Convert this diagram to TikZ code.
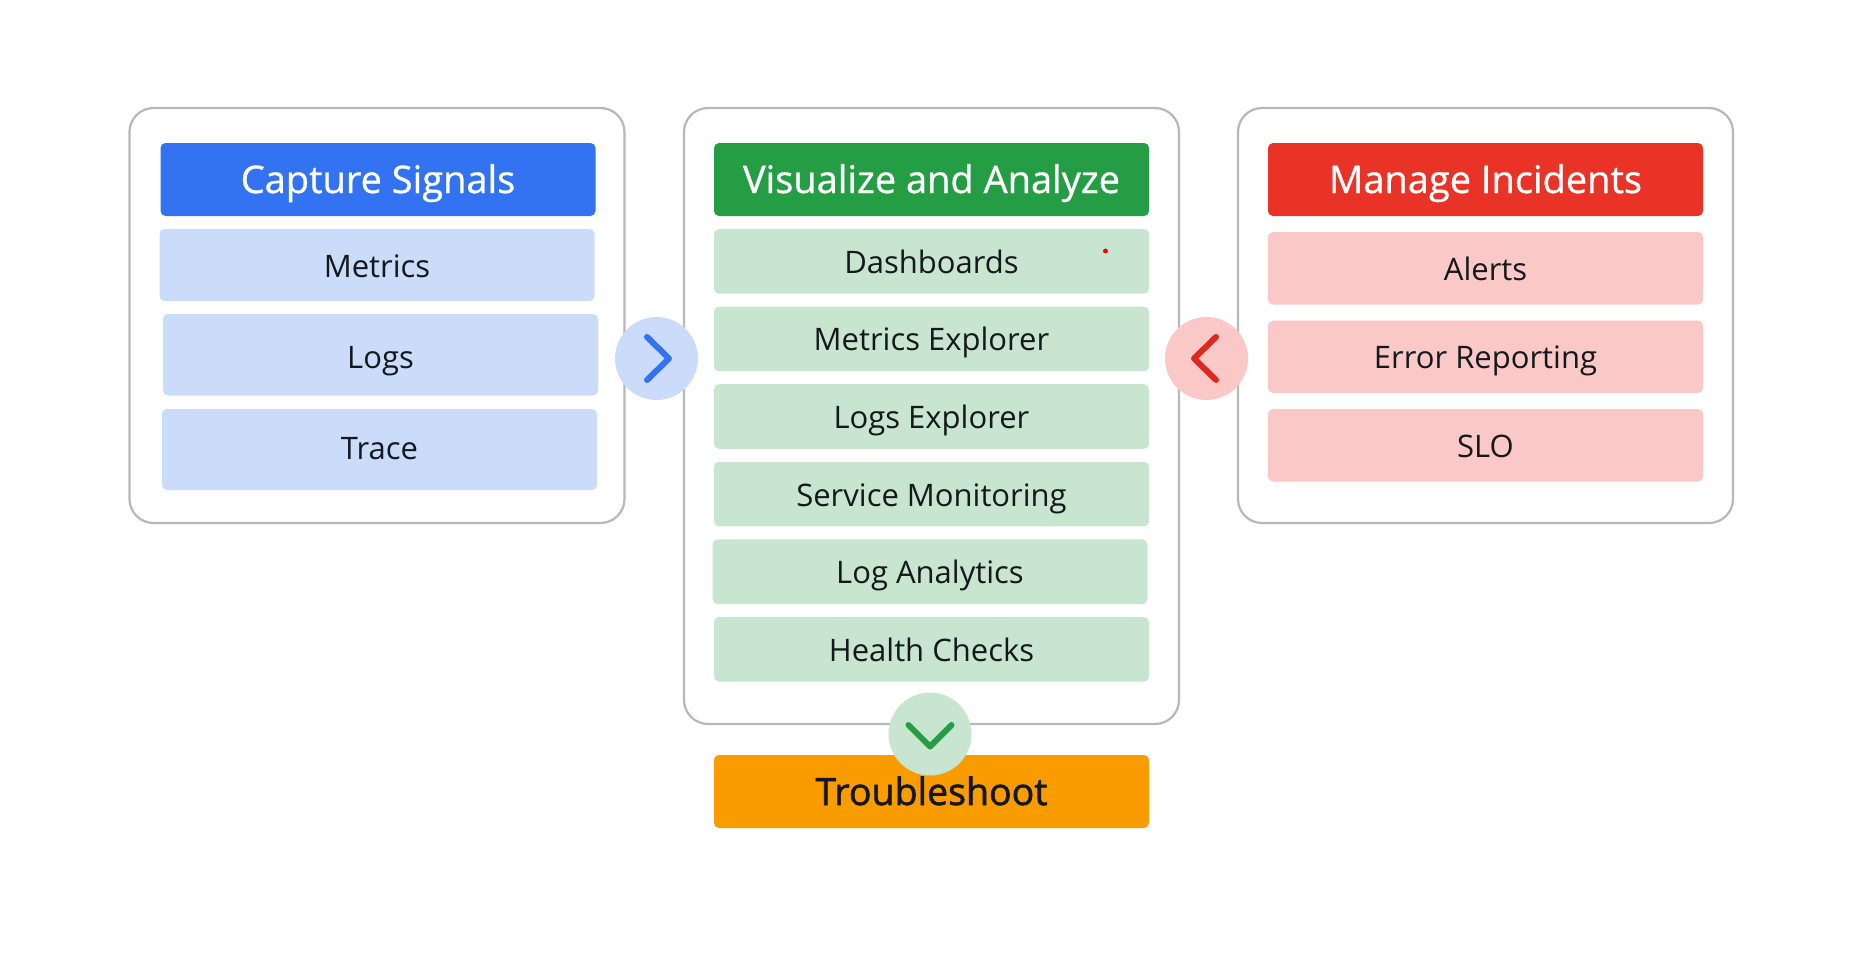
\documentclass[tikz,border=0pt]{standalone}
\usepackage{fontspec}
\setmainfont{Open Sans}
\newfontfamily\headfont[FakeBold=0.8]{Open Sans}
\newfontfamily\fixfont[FakeBold=1.6]{Open Sans}
\usetikzlibrary{positioning}
\definecolor{sigBlue}{HTML}{3373F2}
\definecolor{sigLight}{HTML}{CBDCFB}
\definecolor{anaGreen}{HTML}{259D45}
\definecolor{anaLight}{HTML}{C8E6CF}
\definecolor{incRed}{HTML}{E93326}
\definecolor{incLight}{HTML}{F9C8C7}
\definecolor{incMark}{HTML}{DC2820}
\definecolor{fixOrange}{HTML}{F99C00}
\definecolor{panelLine}{HTML}{B8B8BC}
\definecolor{inkDark}{HTML}{14181C}
\tikzset{
  panel/.style={
    draw=panelLine, line width=2.2pt, rounded corners=24pt, fill=white,
    minimum width=495pt, inner sep=0pt, outer sep=0pt, anchor=north west
  },
  card/.style={
    rounded corners=5pt, minimum width=435pt, inner sep=0pt, outer sep=0pt,
    text height=24pt, text depth=0pt
  },
  headcard/.style={card, minimum height=73pt, text=white, text height=27pt, font=\headfont\fontsize{38}{44}\selectfont},
  sigitem/.style={card, fill=sigLight, text=inkDark, font=\fontsize{31}{36}\selectfont},
  anaitem/.style={card, fill=anaLight, text=inkDark, minimum height=64.6pt, font=\fontsize{31}{36}\selectfont},
  incitem/.style={card, fill=incLight, text=inkDark, minimum height=72.5pt, font=\fontsize{31}{36}\selectfont},
  badge/.style={circle, minimum size=83pt, inner sep=0pt},
  chevron/.style={line width=6pt, line cap=round, line join=round}
}
\begin{document}
\begin{tikzpicture}[x=1pt,y=-1pt]
  \useasboundingbox (0,0) rectangle (1857,977);
  % panels
  \node[panel, minimum height=415pt] (capture) at (129.5,108) {};
  \node[panel, minimum height=616pt] (analyze) at (684,108) {};
  \node[panel, minimum height=415pt] (manage) at (1238,108) {};
  % capture signals
  \node[headcard, fill=sigBlue, anchor=north, xshift=1pt] (capHead) at ([yshift=-35pt]capture.north) {Capture Signals};
  \node[sigitem, minimum height=72pt, below=13pt of capHead, xshift=-1pt] (metrics) {Metrics};
  \node[sigitem, minimum height=81.5pt, text height=27pt, below=13pt of metrics, xshift=3.5pt] (logs) {Logs};
  \node[sigitem, minimum height=81pt, text height=20pt, below=13.5pt of logs, xshift=-1pt] (trace) {Trace};
  % visualize and analyze
  \node[headcard, fill=anaGreen, anchor=north] (anaHead) at ([yshift=-35pt]analyze.north) {Visualize and Analyze};
  \node[anaitem, below=13pt of anaHead] (dash) {Dashboards};
  \node[anaitem, below=13pt of dash] (mexp) {Metrics Explorer};
  \node[anaitem, below=13pt of mexp] (lexp) {Logs Explorer};
  \node[anaitem, below=13pt of lexp] (smon) {Service Monitoring};
  \node[anaitem, below=13pt of smon, xshift=-1.5pt] (lana) {Log Analytics};
  \node[anaitem, below=13pt of lana, xshift=1.5pt] (health) {Health Checks};
  \node[circle, fill=red, minimum size=5pt, inner sep=0pt] (dot) at (1105.5,251) {};
  % manage incidents
  \node[headcard, fill=incRed, anchor=north] (incHead) at ([yshift=-35pt]manage.north) {Manage Incidents};
  \node[incitem, below=16pt of incHead] (alerts) {Alerts};
  \node[incitem, below=16pt of alerts] (errors) {Error Reporting};
  \node[incitem, below=16pt of errors] (slo) {SLO};
  % troubleshoot
  \node[headcard, fill=fixOrange, text=inkDark, below=31pt of analyze, font=\fixfont\fontsize{37.5}{44}\selectfont] (fix) {Troubleshoot};
  % badges
  \node[badge, fill=sigLight] (toAna) at (656.5,358.5) {};
  \node[badge, fill=incLight] (fromInc) at (1206.5,358.5) {};
  \node[badge, fill=anaLight] (toFix) at (930,734) {};
  \draw[chevron, sigBlue] ([shift={(-9.5,-21.5)}]toAna.center) -- ([shift={(12.5,0)}]toAna.center) -- ([shift={(-9.5,21.5)}]toAna.center);
  \draw[chevron, incMark] ([shift={(9.5,-21.5)}]fromInc.center) -- ([shift={(-12.5,0)}]fromInc.center) -- ([shift={(9.5,21.5)}]fromInc.center);
  \draw[chevron, anaGreen] ([shift={(-21.5,-9)}]toFix.center) -- ([shift={(0,12.5)}]toFix.center) -- ([shift={(21.5,-9)}]toFix.center);
\end{tikzpicture}
\end{document}
